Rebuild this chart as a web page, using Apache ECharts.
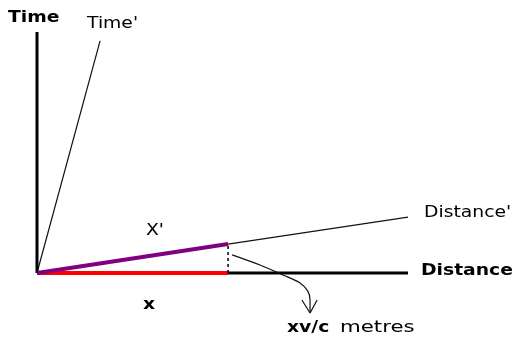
<!DOCTYPE html>
<html>
<head>
<meta charset="utf-8">
<script src="https://cdn.jsdelivr.net/npm/echarts@6/dist/echarts.min.js"></script>
<style>
  html, body { margin: 0; padding: 0; background: #fff; }
</style>
</head>
<body>
<div id="chart" style="width:516px;height:337px"></div>
<script>
  // diagram coordinates, origin at the meeting of the two axes
  const timeAxis = [[0, 0], [0, 10]]
  const distanceAxis = [[0, 0], [10, 0]]
  const xSegment = [[0, 0], [5.15, 0]]
  const xPrimeSegment = [[0, 0], [5.15, 1.2]]
  const distancePrime = [[5.15, 1.2], [10, 2.32]]
  const timePrime = [[0, 0], [1.7, 9.63]]
  const dropLine = [[5.15, 0], [5.15, 1.2]]
  const arrowCurve = [[5.26, 0.75], [6.01, 0.33], [6.63, -0.08], [7.09, -0.41], [7.3, -0.75], [7.36, -1.12], [7.36, -1.66]]
  const arrowHead = [[7.14, -1.12], [7.36, -1.66], [7.55, -1.12]]
  const labels = ['Time', 'Time\'', 'X\'', 'x', 'xv/c', 'metres', 'Distance\'', 'Distance']

  const chart = echarts.init(document.getElementById('chart'))

  function seg(name, data, color, width, type) {
    return {
      name: name,
      type: 'line',
      data: data,
      symbol: 'none',
      clip: false,
      silent: true,
      lineStyle: { color: color, width: width, type: type || 'solid' }
    }
  }

  function label(text, x, y, bold, sx) {
    return {
      type: 'text',
      x: x,
      y: y,
      scaleX: sx || 1.25,
      silent: true,
      style: {
        text: text,
        fontFamily: 'DejaVu Sans',
        fontSize: 15,
        fontWeight: bold ? 'bold' : 'normal',
        fill: '#000',
        align: 'left',
        verticalAlign: 'middle'
      }
    }
  }

  const curve = seg('curve', arrowCurve, '#111', 1.2)
  curve.smooth = 0.3

  chart.setOption({
    backgroundColor: '#fff',
    animation: false,
    grid: {
      left: 37,
      right: 108,
      top: 32,
      bottom: 64
    },
    xAxis: {
      type: 'value',
      min: 0,
      max: 10,
      show: false
    },
    yAxis: {
      type: 'value',
      min: 0,
      max: 10,
      show: false
    },
    series: [
      seg('time', timeAxis, '#000', 3),
      seg('distance', distanceAxis, '#000', 3),
      seg('x', xSegment, '#ff0000', 4),
      seg('x prime', xPrimeSegment, '#800080', 4),
      seg('distance prime', distancePrime, '#111', 1.2),
      seg('time prime', timePrime, '#111', 1.2),
      seg('drop', dropLine, '#000', 1.5, [3, 3]),
      curve,
      seg('arrow head', arrowHead, '#111', 1.2)
    ],
    graphic: [
      label(labels[0], 8, 18.5, true),
      label(labels[1], 87, 24.5, false),
      label(labels[2], 146, 231.5, false),
      label(labels[3], 143, 305, true),
      label(labels[4], 287, 328.5, true),
      label(labels[5], 340, 328.5, false, 1.42),
      label(labels[6], 424, 213.5, false),
      label(labels[7], 421, 271.5, true)
    ]
  })
</script>
</body>
</html>
